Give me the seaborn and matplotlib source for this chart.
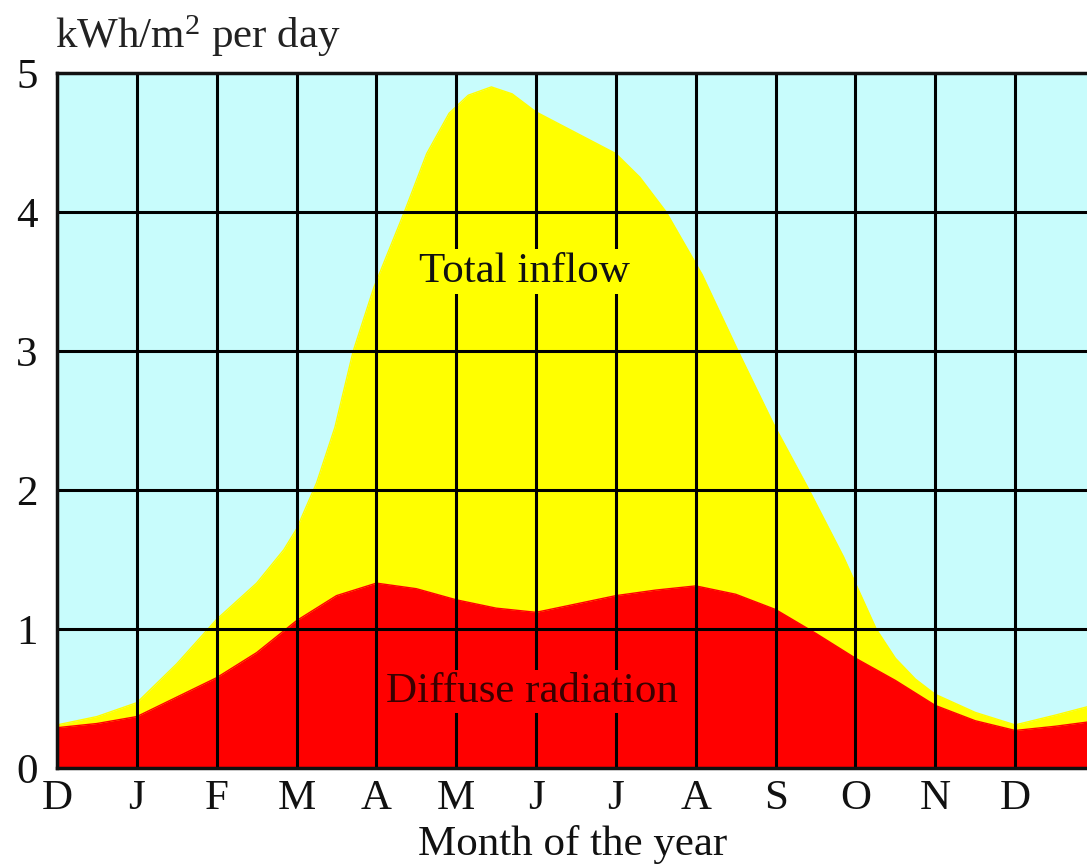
import matplotlib.pyplot as plt
import seaborn as sns
import pandas as pd

# month positions (0 = December)
month_labels = ["D", "J", "F", "M", "A", "M", "J", "J", "A", "S", "O", "N", "D"]

total_x = [0.0, 0.5, 1.0, 1.5, 2.0, 2.5, 2.84, 3.0, 3.25, 3.48, 3.71, 3.97, 4.35,
           4.63, 4.91, 5.15, 5.44, 5.7, 6.0, 6.5, 7.0, 7.3, 7.63, 8.08, 8.53,
           8.97, 9.42, 9.85, 10.26, 10.5, 10.75, 11.0, 11.5, 12.0, 12.5, 12.9]
total_y = [0.31, 0.37, 0.47, 0.75, 1.07, 1.33, 1.57, 1.72, 2.05, 2.45, 3.0, 3.46, 4.0,
           4.42, 4.71, 4.84, 4.90, 4.85, 4.72, 4.57, 4.42, 4.25, 4.0, 3.55, 3.0,
           2.48, 2.0, 1.52, 1.0, 0.79, 0.64, 0.53, 0.40, 0.31, 0.38, 0.44]

diffuse_x = [0.0, 0.5, 1.0, 1.5, 2.0, 2.5, 3.0, 3.5, 4.0, 4.5, 5.0, 5.5, 6.0,
             6.5, 7.0, 7.5, 8.0, 8.5, 9.0, 9.5, 10.0, 10.5, 11.0, 11.5, 12.0,
             12.5, 12.9]
diffuse_y = [0.29, 0.32, 0.37, 0.51, 0.65, 0.83, 1.06, 1.24, 1.33, 1.29, 1.21, 1.15, 1.12,
             1.18, 1.24, 1.28, 1.31, 1.25, 1.14, 0.97, 0.79, 0.63, 0.45, 0.34, 0.27,
             0.30, 0.33]

df_total = pd.DataFrame({"month": total_x, "value": total_y})
df_diffuse = pd.DataFrame({"month": diffuse_x, "value": diffuse_y})

sns.set_theme(style="white")
plt.rcParams['font.family'] = ['Liberation Serif', 'DejaVu Serif']
plt.rcParams['mathtext.fontset'] = 'custom'
plt.rcParams['mathtext.rm'] = 'Liberation Serif'
plt.rcParams['mathtext.default'] = 'regular'

W, H = 1087, 867
fnt = 31
fig = plt.figure(figsize=(W / 100, H / 100), dpi=100)
# axes run past the right edge of the figure, like the cropped original
left, right, top, bottom = 57, 1095, 73, 768
ax = fig.add_axes([left / W, 1 - bottom / H, (right - left) / W, (bottom - top) / H])
ax.set_facecolor("#c8fcfc")

# yellow total inflow, red diffuse part on top
sns.lineplot(data=df_total, x="month", y="value", color="#ffff00", lw=1, ax=ax, zorder=1)
ax.fill_between(df_total["month"], 0, df_total["value"], color="#ffff00", lw=0, zorder=1)
sns.lineplot(data=df_diffuse, x="month", y="value", color="#ff0000", lw=1, ax=ax, zorder=1.5)
ax.fill_between(df_diffuse["month"], 0, df_diffuse["value"], color="#ff0000", lw=0, zorder=1.5)

ax.set_xlim(0, 13.0)
ax.set_ylim(0, 5)
ax.set_xticks(range(len(month_labels)))
ax.set_xticklabels(month_labels)
ax.set_yticks(range(6))
ax.tick_params(axis="both", length=0, labelsize=fnt, colors="#111111")
ax.tick_params(axis="x", pad=8)
ax.tick_params(axis="y", pad=14)
ax.set_xlabel("")
ax.set_ylabel("")

# black grid over the fills
for xv in range(len(month_labels)):
    ax.axvline(xv, color="black", lw=2.2, zorder=2)
for yv in range(1, 5):
    ax.axhline(yv, color="black", lw=2.2, zorder=2)

for s in ["left", "bottom", "top"]:
    ax.spines[s].set_color("#111111")
    ax.spines[s].set_linewidth(2.5)
ax.spines["right"].set_visible(False)

# labels inside the areas; the box hides the grid behind them
ax.text(5.85, 3.57, "Total inflow", fontsize=fnt, color="#111111", ha="center", va="center",
        zorder=3, bbox=dict(boxstyle="square,pad=0.08", fc="#ffff00", ec="none"))
ax.text(5.95, 0.55, "Diffuse radiation", fontsize=fnt, color="#3a0000", ha="center", va="center",
        zorder=3, bbox=dict(boxstyle="square,pad=0.05", fc="#ff0000", ec="none"))

fig.text(55 / W, 1 - 36 / H, r"kWh/m$^{2}$ per day", fontsize=fnt, color="#222222",
         ha="left", va="center")
fig.text(573 / W, 1 - 845 / H, "Month of the year", fontsize=fnt, color="#111111",
         ha="center", va="center")

fig.savefig("out.png", dpi=100)
